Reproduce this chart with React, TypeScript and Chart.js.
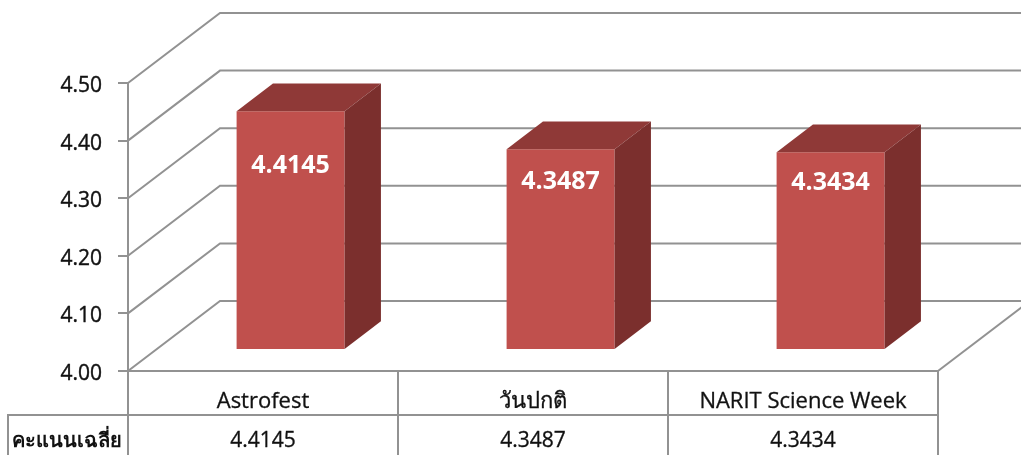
import React, { useEffect, useRef } from "react";
import { Chart, registerables } from "chart.js";

Chart.register(...registerables);

const categories = ["Astrofest", "วันปกติ", "NARIT Science Week"];
const seriesName = "คะแนนเฉลี่ย";
const scores = [4.4145, 4.3487, 4.3434];
const axisMin = 4.0;
const axisMax = 4.5;
const axisStep = 0.1;

const FONT = '"Open Sans", "Noto Sans", "DejaVu Sans", sans-serif';
const INK = "#111111";
const GRID = "#929292";
const FRONT = "#C0504D";
const SIDE = "#7B2F2D";
const TOP = "#8F3937";
const WALL_DX = 92;
const WALL_DY = -70;
const BAR_NEAR = 0.3;
const BAR_FAR = 0.695;
const labelDrop = [55, 33, 31];

const threeD = {
  id: "threeD",
  beforeDatasetsDraw(chart: any) {
    const { ctx, scales, chartArea } = chart;
    const y = scales.y;
    ctx.save();
    ctx.strokeStyle = GRID;
    ctx.lineWidth = 2;
    y.ticks.forEach((t: any) => {
      const py = y.getPixelForValue(t.value);
      ctx.beginPath();
      ctx.moveTo(chartArea.left, py);
      ctx.lineTo(chartArea.left + WALL_DX, py + WALL_DY);
      ctx.lineTo(chartArea.right + WALL_DX, py + WALL_DY);
      ctx.stroke();
    });
    ctx.beginPath();
    ctx.moveTo(chartArea.right, chartArea.bottom);
    ctx.lineTo(chartArea.right + WALL_DX, chartArea.bottom + WALL_DY);
    ctx.stroke();
    ctx.restore();
  },
  beforeDatasetDraw(chart: any) {
    chart.ctx.save();
    chart.ctx.translate(WALL_DX * BAR_NEAR, WALL_DY * BAR_NEAR);
  },
  afterDatasetDraw(chart: any) {
    const ctx = chart.ctx;
    const depthX = WALL_DX * (BAR_FAR - BAR_NEAR);
    const depthY = WALL_DY * (BAR_FAR - BAR_NEAR);
    const meta = chart.getDatasetMeta(0);
    meta.data.forEach((bar: any) => {
      const { x, y, base, width } = bar.getProps(["x", "y", "base", "width"], true);
      const l = x - width / 2;
      const r = x + width / 2;
      ctx.fillStyle = TOP;
      ctx.beginPath();
      ctx.moveTo(l, y);
      ctx.lineTo(l + depthX, y + depthY);
      ctx.lineTo(r + depthX, y + depthY);
      ctx.lineTo(r, y);
      ctx.closePath();
      ctx.fill();
      ctx.fillStyle = SIDE;
      ctx.beginPath();
      ctx.moveTo(r, y);
      ctx.lineTo(r + depthX, y + depthY);
      ctx.lineTo(r + depthX, base + depthY);
      ctx.lineTo(r, base);
      ctx.closePath();
      ctx.fill();
    });
    ctx.restore();
    ctx.save();
    ctx.fillStyle = "#FFFFFF";
    ctx.font = `bold 25px ${FONT}`;
    ctx.textAlign = "center";
    ctx.textBaseline = "middle";
    meta.data.forEach((bar: any, i: number) => {
      const { x, y } = bar.getProps(["x", "y"], true);
      ctx.fillText(
        scores[i].toFixed(4),
        x + WALL_DX * BAR_NEAR,
        y + WALL_DY * BAR_NEAR + labelDrop[i]
      );
    });
    ctx.restore();
  },
  afterDraw(chart: any) {
    const { ctx, scales, chartArea, height } = chart;
    const x = scales.x;
    const tableTop = chartArea.bottom;
    const rowLine = 415;
    const leftEdge = 8;
    ctx.save();
    ctx.strokeStyle = GRID;
    ctx.lineWidth = 2;
    ctx.beginPath();
    ctx.moveTo(leftEdge, height);
    ctx.lineTo(leftEdge, rowLine);
    ctx.lineTo(chartArea.right, rowLine);
    ctx.moveTo(chartArea.left, tableTop);
    ctx.lineTo(chartArea.right, tableTop);
    const band = (chartArea.right - chartArea.left) / categories.length;
    for (let i = 0; i <= categories.length; i++) {
      ctx.moveTo(chartArea.left + band * i, tableTop);
      ctx.lineTo(chartArea.left + band * i, height);
    }
    ctx.stroke();
    ctx.fillStyle = INK;
    ctx.strokeStyle = INK;
    ctx.lineWidth = 0.3;
    ctx.textBaseline = "middle";
    ctx.textAlign = "center";
    ctx.font = `21px ${FONT}`;
    scores.forEach((v, i) => {
      const px = x.getPixelForValue(i);
      ctx.fillText(v.toFixed(4), px, 441);
      ctx.strokeText(v.toFixed(4), px, 441);
    });
    ctx.font = `bold 20px ${FONT}`;
    ctx.textAlign = "left";
    ctx.fillText(seriesName, 12, 441);
    ctx.restore();
  },
};

export default function App() {
  const ref = useRef<HTMLCanvasElement>(null);
  useEffect(() => {
    document.body.style.margin = "0";
    const chart = new Chart(ref.current as HTMLCanvasElement, {
      type: "bar",
      data: {
        labels: categories,
        datasets: [
          {
            label: seriesName,
            data: scores,
            backgroundColor: FRONT,
            categoryPercentage: 1,
            barPercentage: 0.4,
            base: axisMin,
            clip: false,
          } as any,
        ],
      },
      options: {
        animation: false,
        responsive: false,
        layout: { padding: { top: 83, right: 83, left: 0, bottom: 0 } },
        plugins: { legend: { display: false }, tooltip: { enabled: false } },
        scales: {
          x: {
            grid: { display: false },
            border: { display: false },
            ticks: {
              color: INK,
              font: { family: FONT, size: 22 },
              padding: 10,
              maxRotation: 0,
              autoSkip: false,
              textStrokeColor: INK,
              textStrokeWidth: 0.3,
            },
            afterFit(s: any) {
              s.height = 84;
            },
          },
          y: {
            min: axisMin,
            max: axisMax,
            grid: { drawOnChartArea: false, color: GRID, lineWidth: 2, tickLength: 10 },
            border: { color: GRID, width: 2 },
            ticks: {
              stepSize: axisStep,
              color: INK,
              padding: 16,
              labelOffset: 3,
              font: { family: FONT, size: 21 },
              textStrokeColor: INK,
              textStrokeWidth: 0.4,
              callback: (v: any) => Number(v).toFixed(2),
            },
            afterFit(s: any) {
              s.width = 128;
            },
          },
        },
      },
      plugins: [threeD],
    } as any);
    return () => chart.destroy();
  }, []);
  return <canvas ref={ref} width={1021} height={455} style={{ display: "block" }} />;
}
